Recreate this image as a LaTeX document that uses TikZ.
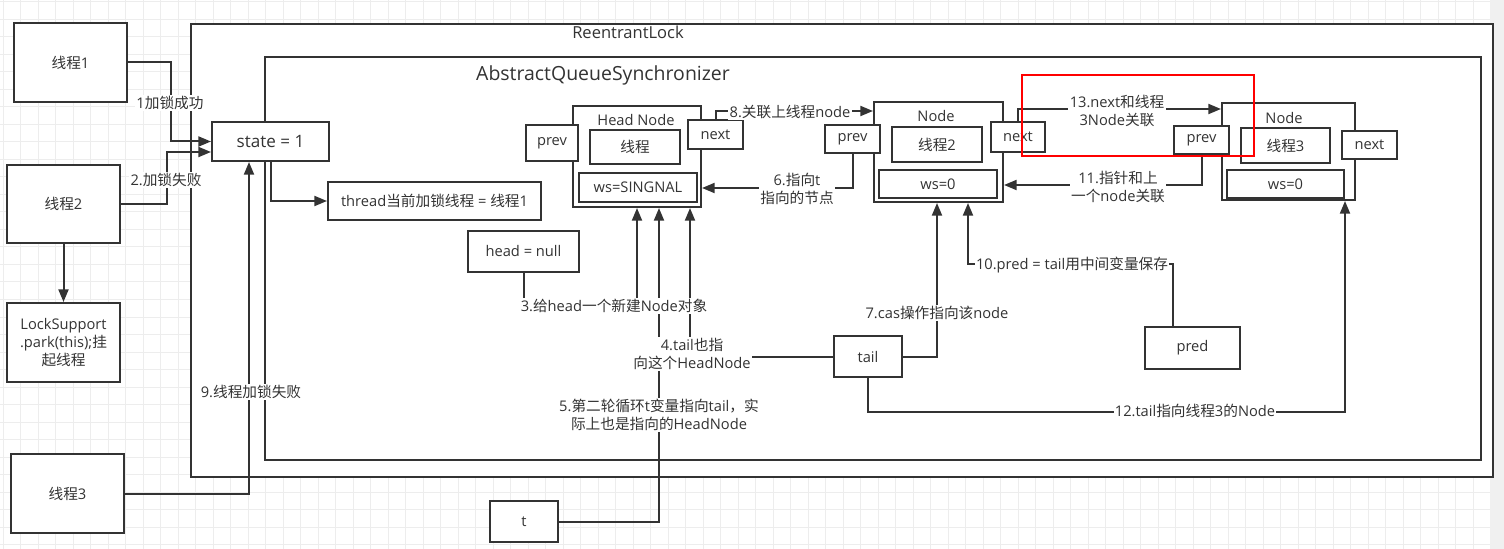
\documentclass[tikz,border=0pt]{standalone}
\usepackage{fontspec}
\setmainfont{Open Sans}
\newfontfamily\cjk{Noto Sans CJK SC}
\usetikzlibrary{arrows.meta,calc}
\XeTeXinterchartokenstate=1
\newXeTeXintercharclass\cjkcls
\newcount\cjkcnt
\cjkcnt="3000 \loop\ifnum\cjkcnt<"3040 \XeTeXcharclass\cjkcnt=\cjkcls \advance\cjkcnt by 1 \repeat
\cjkcnt="4E00 \loop\ifnum\cjkcnt<"A000 \XeTeXcharclass\cjkcnt=\cjkcls \advance\cjkcnt by 1 \repeat
\cjkcnt="FF00 \loop\ifnum\cjkcnt<"FFF0 \XeTeXcharclass\cjkcnt=\cjkcls \advance\cjkcnt by 1 \repeat
\cjkcnt="21 \loop\ifnum\cjkcnt<"7F \XeTeXcharclass\cjkcnt=0 \advance\cjkcnt by 1 \repeat
\XeTeXinterchartoks 0 \cjkcls={\begingroup\cjk}
\XeTeXinterchartoks 4095 \cjkcls={\begingroup\cjk}
\XeTeXinterchartoks \cjkcls 0={\endgroup}
\XeTeXinterchartoks \cjkcls 4095={\endgroup}
\definecolor{lc}{HTML}{333333}
\definecolor{gridc}{HTML}{EDEDED}
\definecolor{stripc}{HTML}{F0F0F0}
\newcommand\fsn{\fontsize{11}{13.5}\selectfont}
\begin{document}
\begin{tikzpicture}[x=0.75pt,y=-0.75pt,
  area/.style args={#1,#2,#3,#4}{minimum width={(#3-#1)*0.75pt}, minimum height={(#4-#2)*0.75pt}, at={({(#1+#3)/2},{(#2+#4)/2})}},
  box/.style={draw=lc, line width=1.5pt, fill=white, inner sep=0pt, text=lc, font=\fsn},
  txt/.style={inner sep=0pt, text=lc, font=\fsn},
  lab/.style={fill=white, inner sep=1pt, text=lc, font=\fsn, align=center},
  arr/.style={draw=lc, line width=1.5pt, -{Triangle[length=9.5pt,width=7.5pt]}},
  hilite/.style={draw=red, line width=1.5pt, inner sep=0pt}]
\useasboundingbox (0,0) rectangle (1504,549);
\fill[white] (0,0) rectangle (1504,549);
\foreach \i in {0,...,85} \draw[gridc, line width=0.75pt] ({3.4+17.5*\i},0) -- ({3.4+17.5*\i},549);
\foreach \i in {0,...,31} \draw[gridc, line width=0.75pt] (0,{2+17.5*\i}) -- (1504,{2+17.5*\i});
\fill[stripc] (1490,0) rectangle (1504,549);
% containers
\node[box, area={191,24,1493,477}] (rl) {};
\node[txt, font=\fontsize{12.4}{14}\selectfont] (rlt) at (628,32) {ReentrantLock};
\node[box, area={265,57,1481,460}] (aqs) {};
\node[txt, font=\fontsize{14.6}{16}\selectfont] (aqst) at (603,75) {AbstractQueueSynchronizer};
% left side
\node[box, area={14,23,127,102}] (t1) {线程1};
\node[box, area={7,165,120,243}] (t2) {线程2};
\node[box, area={7,303,120,382}, align=center] (lsp) {LockSupport\\.park(this);挂\\起线程};
\node[box, area={11,454,124,533}] (t3) {线程3};
\node[box, area={212,122,329,161}, font=\fontsize{12.8}{14}\selectfont] (state) {state = 1};
\node[box, area={328,182,541,220}] (thr) {thread当前加锁线程 = 线程1};
\node[box, area={468,231,579,272}] (hnull) {head = null};
\node[box, area={834,336,902,377}] (tail) {tail};
\node[box, area={490,501,558,542}] (t) {t};
\node[box, area={1145,327,1240,369}] (pred) {pred};
% head node
\node[box, area={573,106,701,207}] (hn) {};
\node[txt] (hnt) at (636,120) {Head Node};
\node[box, area={590,130,680,164}] (hthr) {线程};
\node[box, area={579,173,697,202}] (hws) {ws=SINGNAL};
\node[box, area={526,125,578,161}] (hprev) {prev};
\node[box, area={688,120,743,149}] (hnext) {next};
% node 2
\node[box, area={874,102,1003,202}] (n2) {};
\node[txt] (n2t) at (936,116) {Node};
\node[box, area={892,127,982,162}] (n2thr) {线程2};
\node[box, area={879,170,997,198}] (n2ws) {ws=0};
\node[box, area={825,125,880,153}] (n2prev) {prev};
\node[box, area={991,122,1045,152}] (n2next) {next};
% node 3
\node[box, area={1222,103,1355,200}] (n3) {};
\node[txt] (n3t) at (1284,118) {Node};
\node[box, area={1241,128,1330,163}] (n3thr) {线程3};
\node[box, area={1227,170,1344,198}] (n3ws) {ws=0};
\node[box, area={1174,126,1229,154}] (n3prev) {prev};
\node[box, area={1342,131,1397,159}] (n3next) {next};
% connectors
\draw[arr] (t1.east) -- ++(43,0) |- (state.west);
\draw[arr] (t2.east) -- ++(46,0) |- ($(state.west)+(0,10.5)$);
\draw[arr] (t2.south) -- (lsp.north);
\draw[arr] (t3.east) -| ($(state.south)+(-21.5,0)$);
\draw[arr] (state.south) |- (thr.west);
\draw[arr] (hnull.south) -- ++(0,34) -| (hn.south);
\draw[arr] (tail.west) -| ($(hn.south)+(53,0)$);
\draw[arr] (t.east) -| ($(hn.south)+(22,0)$);
\draw[arr] (n2prev.south) |- ($(hn.east)+(0,31.5)$);
\draw[arr] (tail.east) -| ($(n2.south)+(-1.5,0)$);
\draw[arr] (hnext.north) |- ($(n2.north west)+(0,10)$);
\draw[arr] ($(pred.north)+(-19.5,0)$) -- ++(0,-62) -| ($(n2.south)+(29.5,0)$);
\draw[arr] (n3prev.south) |- ($(n2.east)+(0,33)$);
\draw[arr] (tail.south) -- ++(0,34) -| ($(n3.south)+(56.5,0)$);
\draw[arr] (n2next.north) |- ($(n3.north west)+(0,7)$);
% labels
\node[lab] (l1) at (170,103) {1加锁成功};
\node[lab] (l2) at (166,180) {2.加锁失败};
\node[lab] (l3) at (614,306) {3.给head一个新建Node对象};
\node[lab] (l4) at (692,354) {4.tail也指\\向这个HeadNode};
\node[lab] (l5) at (659,415) {5.第二轮循环t变量指向tail，实\\际上也是指向的HeadNode};
\node[lab] (l6) at (797,189) {6.指向t\\指向的节点};
\node[lab] (l7) at (937,313) {7.cas操作指向该node};
\node[lab] (l8) at (790,112) {8.关联上线程node};
\node[lab] (l9) at (251,392) {9.线程加锁失败};
\node[lab] (l10) at (1072,265) {10.pred = tail用中间变量保存};
\node[lab] (l11) at (1118,187) {11.指针和上\\一个node关联};
\node[lab] (l12) at (1195,411) {12.tail指向线程3的Node};
\node[lab] (l13) at (1117,111) {13.next和线程\\3Node关联};
\node[hilite, area={1022,75,1254,156}] (hl) {};
\end{tikzpicture}
\end{document}
